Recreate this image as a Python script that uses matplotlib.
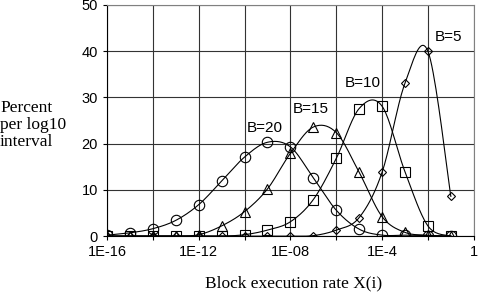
import numpy as np
import matplotlib.pyplot as plt

# x positions: one point per decade, 1E-16 .. 1E-1
exponents = list(range(-16, 0))
b20 = [0.2, 0.7, 1.6, 3.4, 6.8, 11.9, 17.1, 20.3, 19.3, 12.6, 5.6, 1.5, 0.2, 0.2, 0.1, 0.0]
b15 = [0.0, 0.0, 0.0, 0.0, 0.3, 2.2, 5.3, 10.2, 17.9, 23.6, 22.4, 13.8, 4.2, 0.8, 0.2, 0.0]
b10 = [0.0, 0.0, 0.0, 0.0, 0.0, 0.0, 0.3, 1.3, 3.1, 7.9, 16.8, 27.6, 28.1, 13.9, 2.2, 0.0]
b5 = [0.0, 0.0, 0.0, 0.0, 0.0, 0.0, 0.0, 0.0, 0.0, 0.1, 1.3, 4.0, 13.8, 33.1, 40.0, 8.6]

labels = ["B=20", "B=15", "B=10", "B=5"]
label_pos = [(10 ** -9.9, 22.5), (10 ** -7.9, 26.6), (10 ** -5.63, 32.2), (10 ** -1.7, 42.3)]


def smooth(xs, ys, n=20):
    # Catmull-Rom style smoothing in log-x space (like spreadsheet smoothed lines)
    lx = np.log10(xs)
    ys = np.asarray(ys, float)
    px, py = [], []
    for i in range(len(lx) - 1):
        x0, x1 = lx[max(i - 1, 0)], lx[i]
        x2, x3 = lx[i + 1], lx[min(i + 2, len(lx) - 1)]
        y0, y1 = ys[max(i - 1, 0)], ys[i]
        y2, y3 = ys[i + 1], ys[min(i + 2, len(lx) - 1)]
        c1 = (x1 + (x2 - x0) / 6, y1 + (y2 - y0) / 6)
        c2 = (x2 - (x3 - x1) / 6, y2 - (y3 - y1) / 6)
        t = np.linspace(0, 1, n)
        bx = (1-t)**3*x1 + 3*(1-t)**2*t*c1[0] + 3*(1-t)*t**2*c2[0] + t**3*x2
        by = (1-t)**3*y1 + 3*(1-t)**2*t*c1[1] + 3*(1-t)*t**2*c2[1] + t**3*y2
        px.extend(bx)
        py.extend(by)
    return 10 ** np.array(px), np.array(py)


x = [10.0 ** e for e in exponents]

fig = plt.figure(figsize=(4.8, 2.94), dpi=100)
ax = fig.add_axes([0.223, 0.197, 0.764, 0.786])

series = [(b20, "o", 7.5), (b15, "^", 7), (b10, "s", 7.5), (b5, "D", 4.5)]
for ys, m, ms in series:
    sx, sy = smooth(x, ys)
    ax.plot(sx, sy, color="black", lw=0.8)
    ax.plot(x, ys, linestyle="none", marker=m, markersize=ms,
            markerfacecolor="none", markeredgecolor="black", markeredgewidth=0.8)

for lab, (lxp, lyp) in zip(labels, label_pos):
    ax.text(lxp, lyp, lab, fontsize=11, family="Liberation Sans", ha="left", va="baseline")

ax.set_xscale("log")
ax.set_xlim(1e-16, 1)
ax.set_ylim(0, 50)
ax.set_yticks([0, 10, 20, 30, 40, 50])
ax.set_xticks([1e-16, 1e-14, 1e-12, 1e-10, 1e-8, 1e-6, 1e-4, 1e-2, 1])
ax.set_xticklabels(["1E-16", "", "1E-12", "", "1E-08", "", "1E-4", "", "1"])
ax.xaxis.set_minor_locator(plt.NullLocator())
ax.grid(True, color="#333333", lw=0.8)
ax.set_axisbelow(True)
ax.tick_params(labelsize=10.5, length=3, width=0.8, direction="out")
for lab in ax.get_xticklabels() + ax.get_yticklabels():
    lab.set_family("Liberation Sans")
for s in ["top", "right"]:
    ax.spines[s].set_color("#808080")
ax.spines["left"].set_color("black")
ax.spines["bottom"].set_color("black")

fig.text(0.0, 0.575, "Percent\nper log10\ninterval", family="Liberation Serif",
         fontsize=12.5, ha="left", va="center", linespacing=1.05)
fig.text(0.6125, 0.01, "Block execution rate X(i)", family="Liberation Serif",
         fontsize=12.5, ha="center", va="bottom")

fig.savefig("out.png", dpi=100)
